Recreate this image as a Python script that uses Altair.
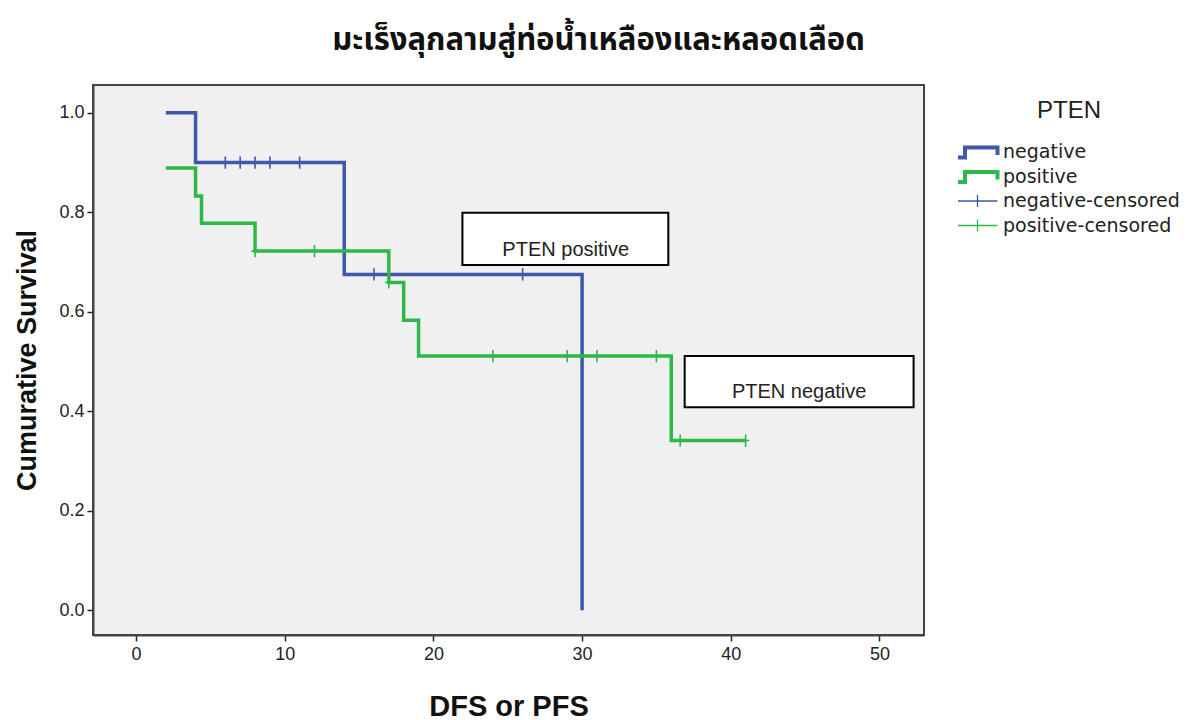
import altair as alt
import pandas as pd

# ---- data ----
neg_time = [2, 4, 14, 30]
neg_surv = [1.0, 0.9, 0.675, 0.0]
pos_time = [2, 4, 4.4, 8, 17, 18, 19, 36, 41]
pos_surv = [0.889, 0.833, 0.778, 0.722, 0.659, 0.583, 0.511, 0.341, 0.341]

neg_cens_time = [6, 7, 8, 9, 11, 16, 26]
neg_cens_surv = [0.9, 0.9, 0.9, 0.9, 0.9, 0.675, 0.675]
pos_cens_time = [8, 12, 17, 24, 29, 31, 35, 36.6, 41]
pos_cens_surv = [0.722, 0.722, 0.659, 0.511, 0.511, 0.511, 0.511, 0.341, 0.341]

legend_labels = ["negative", "positive", "negative-censored", "positive-censored"]
colors = ["#3E58AC", "#2EB848", "#3E58AC", "#2EB848"]

box_labels = ["PTEN positive", "PTEN negative"]
box_x1 = [21.95, 36.9]
box_x2 = [35.8, 52.3]
box_y1 = [0.694, 0.408]
box_y2 = [0.799, 0.511]
box_text_x = [28.9, 44.6]
box_text_y = [0.712, 0.426]

title = "มะเร็งลุกลามสู่ท่อน้ำเหลืองและหลอดเลือด"

STEP = "M -2 0.55 L -1.25 0.55 L -1.25 -0.45 L 2 -0.45 L 2 0.3"
CROSS_LEG = "M -2 0 L 2 0 M 0 -0.6 L 0 0.6"
CROSS_PLOT = "M -0.6 0 L 0.6 0 M 0 -1 L 0 1"

lines = pd.DataFrame({
    "t": neg_time + pos_time,
    "s": neg_surv + pos_surv,
    "g": ["negative"] * len(neg_time) + ["positive"] * len(pos_time),
})
cens = pd.DataFrame({
    "t": neg_cens_time + pos_cens_time,
    "s": neg_cens_surv + pos_cens_surv,
    "g": ["negative-censored"] * len(neg_cens_time) + ["positive-censored"] * len(pos_cens_time),
})
legdf = pd.DataFrame({"g": legend_labels})
boxes = pd.DataFrame({"lab": box_labels, "x1": box_x1, "x2": box_x2, "y1": box_y1, "y2": box_y2,
                      "tx": box_text_x, "ty": box_text_y})

FONT = "Liberation Sans"
xs = alt.Scale(domain=[-2.9, 53.0], nice=False, zero=False)
ys = alt.Scale(domain=[-0.05, 1.056], nice=False, zero=False)
cs = alt.Scale(domain=legend_labels, range=colors)
ss = alt.Scale(domain=legend_labels, range=[STEP, STEP, CROSS_LEG, CROSS_LEG])

xax = alt.Axis(values=[0, 10, 20, 30, 40, 50], title="DFS or PFS", grid=False,
               labelFontSize=18, labelFont=FONT, labelColor="#222", tickColor="#222",
               domainColor="#444", domainWidth=2, tickSize=6, tickWidth=1.5, labelPadding=4,
               titleFont=FONT, titleFontSize=29, titleFontWeight="bold", titlePadding=29,
               titleColor="#111")
yax = alt.Axis(values=[0, 0.2, 0.4, 0.6, 0.8, 1.0], format=".1f", title="Cumurative Survival",
               grid=False, labelFontSize=18, labelFont=FONT, labelColor="#222", tickColor="#222",
               domainColor="#444", domainWidth=2, tickSize=6, tickWidth=1.5, labelPadding=3,
               titleFont=FONT, titleFontSize=27, titleFontWeight="bold", titlePadding=17,
               titleColor="#111")

step = alt.Chart(lines).mark_line(interpolate="step-after", strokeWidth=3.5).encode(
    x=alt.X("t:Q", scale=xs, axis=xax),
    y=alt.Y("s:Q", scale=ys, axis=yax),
    color=alt.Color("g:N", scale=cs, legend=None),
    detail="g:N",
)

marks = alt.Chart(cens).mark_point(shape=CROSS_PLOT, size=150, strokeWidth=1.6, filled=False,
                                   opacity=1).encode(
    x=alt.X("t:Q", scale=xs),
    y=alt.Y("s:Q", scale=ys),
    color=alt.Color("g:N", scale=cs, legend=None),
)

legend = alt.Legend(
    title="PTEN", orient="none", legendX=865, legendY=14, padding=0,
    titleFont=FONT, titleFontSize=24, titleFontWeight="normal", titleColor="#222",
    titleAnchor="middle", titlePadding=19,
    labelFont="DejaVu Sans", labelFontSize=19, labelColor="#222", labelOffset=16,
    labelLimit=400, symbolOffset=10,
    symbolSize=400, rowPadding=4.5, clipHeight=20, symbolOpacity=1,
    symbolStrokeWidth=alt.ExprRef(expr="indexof(['negative','positive'], datum.value) >= 0 ? 4 : 1.3"),
)

leg = alt.Chart(legdf).mark_point(filled=False, opacity=1, clip=True).encode(
    x=alt.value(-3000),
    y=alt.value(-3000),
    color=alt.Color("g:N", scale=cs, legend=legend),
    shape=alt.Shape("g:N", scale=ss, legend=legend),
)

rects = alt.Chart(boxes).mark_rect(fill="white", stroke="black", strokeWidth=2).encode(
    x=alt.X("x1:Q", scale=xs), x2="x2:Q",
    y=alt.Y("y1:Q", scale=ys), y2="y2:Q",
)
texts = alt.Chart(boxes).mark_text(font=FONT, fontSize=20, color="#222", baseline="alphabetic").encode(
    x=alt.X("tx:Q", scale=xs), y=alt.Y("ty:Q", scale=ys), text="lab:N",
)

chart = alt.layer(step, marks, leg, rects, texts).resolve_legend(
    color="independent", shape="independent"
).properties(
    width=831, height=550,
    background="white",
    title=alt.TitleParams(title, font="Noto Sans Thai, Loma, Garuda, Noto Sans, sans-serif",
                          fontSize=31, fontWeight="bold", anchor="middle", dx=90, offset=28,
                          color="#111"),
    autosize=alt.AutoSizeParams(type="none"),
    padding={"left": 93, "top": 85, "right": 268, "bottom": 85},
).configure_view(
    fill="#F0F0F0", stroke="#444", strokeWidth=2,
)

chart.save("out.html", embed_options={"renderer": "svg", "actions": False})
